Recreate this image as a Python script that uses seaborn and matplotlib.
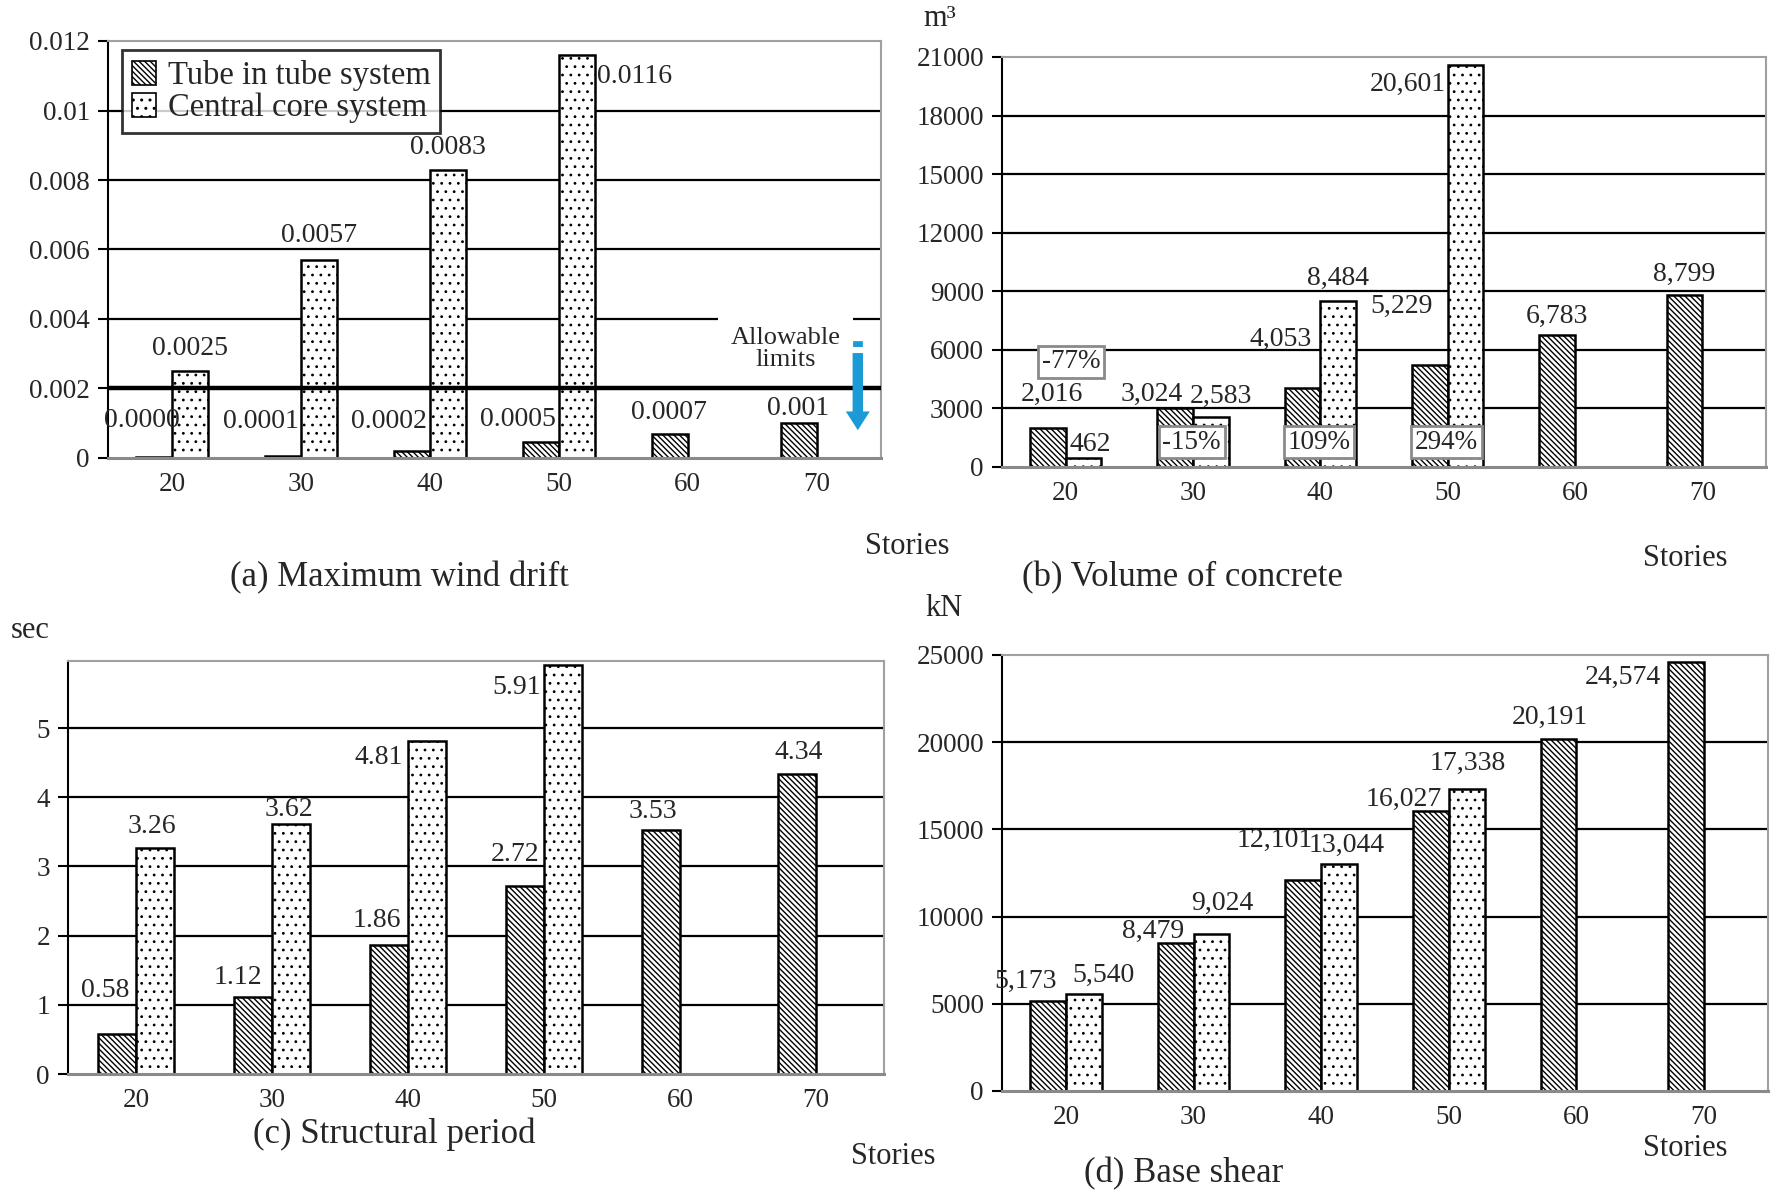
import numpy as np
import pandas as pd
import matplotlib
matplotlib.use("Agg")
import matplotlib.pyplot as plt
import seaborn as sns
from matplotlib.patches import Patch

# ---------------- data ----------------
stories = ["20", "30", "40", "50", "60", "70"]
systems = ["Tube in tube system", "Central core system"]

drift_tube = [0.00002, 0.00006, 0.0002, 0.00045, 0.0007, 0.001]
drift_core = [0.0025, 0.0057, 0.0083, 0.0116, np.nan, np.nan]
drift_tube_labels = ["0.0000", "0.0001", "0.0002", "0.0005", "0.0007", "0.001"]
drift_core_labels = ["0.0025", "0.0057", "0.0083", "0.0116"]
drift_limit = 0.002
drift_ticks = [0, 0.002, 0.004, 0.006, 0.008, 0.01, 0.012]
drift_ticklabels = ["0", "0.002", "0.004", "0.006", "0.008", "0.01", "0.012"]

concrete_tube = [2016, 3024, 4053, 5229, 6783, 8799]
concrete_core = [462, 2583, 8484, 20601, np.nan, np.nan]
concrete_change = ["-77%", "-15%", "109%", "294%"]
concrete_ticks = [0, 3000, 6000, 9000, 12000, 15000, 18000, 21000]

period_tube = [0.58, 1.12, 1.86, 2.72, 3.53, 4.34]
period_core = [3.26, 3.62, 4.81, 5.91, np.nan, np.nan]
period_ticks = [0, 1, 2, 3, 4, 5]

shear_tube = [5173, 8479, 12101, 16027, 20191, 24574]
shear_core = [5540, 9024, 13044, 17338, np.nan, np.nan]
shear_ticks = [0, 5000, 10000, 15000, 20000, 25000]

# ---------------- style ----------------
sns.set_style("white")
plt.rcParams["font.family"] = ["Liberation Serif", "DejaVu Serif"]
plt.rcParams["hatch.linewidth"] = 1.0
plt.rcParams["hatch.color"] = "black"

TUBE_HATCH = "\\" * 6
CORE_HATCH = ".."
BLUE = "#1b9ad6"
TICK_FS = 19.5
LAB_FS = 20

W, H = 1777, 1194
fig = plt.figure(figsize=(W / 100, H / 100), dpi=100)


def frac_rect(l, r, t, b):
    return [l / W, 1 - b / H, (r - l) / W, (b - t) / H]


def set_hatch(p, hatch):
    p.set_hatch(hatch)
    try:
        p.set_hatch_linewidth(1.0 if hatch == TUBE_HATCH else 0.8)
    except Exception:
        pass


def panel(rect, tube, core, ticks, ticklabels, ylim, tube_lab, core_lab, tube_off, core_off):
    ax = fig.add_axes(rect)
    df = pd.DataFrame({
        "Stories": stories * 2,
        "System": [systems[0]] * 6 + [systems[1]] * 6,
        "Value": list(tube) + list(core),
    })
    sns.barplot(data=df, x="Stories", y="Value", hue="System", order=stories,
                hue_order=systems, width=0.56, palette=["white", "white"],
                saturation=1, edgecolor="black", linewidth=1.8, errorbar=None,
                legend=False, ax=ax)
    for cont, hatch in zip(ax.containers, [TUBE_HATCH, CORE_HATCH]):
        for b in cont:
            set_hatch(b, hatch)
            b.set_zorder(2)
    ax.set_xlim(-0.5, 5.5)
    ax.set_ylim(*ylim)
    for t in ticks:
        if ylim[0] < t < ylim[1] - 1e-12:
            ax.axhline(t, color="black", lw=1.6, zorder=0.5)
    ax.set_yticks(ticks)
    ax.set_yticklabels(ticklabels)
    ax.set_xticks(range(6))
    ax.set_xticklabels(stories)
    ax.set_xticks(np.arange(-0.5, 6, 1), minor=True)
    ax.tick_params(axis="x", which="major", length=0, pad=10, labelsize=TICK_FS)
    ax.tick_params(axis="x", which="minor", length=7, width=1.5, color="black", direction="out")
    ax.tick_params(axis="y", length=7, width=1.5, color="black", direction="out",
                   pad=6, labelsize=TICK_FS, left=True)
    ax.set_xlabel("")
    ax.set_ylabel("")
    ax.spines["left"].set_color("black")
    ax.spines["left"].set_linewidth(1.5)
    for s in ["top", "right"]:
        ax.spines[s].set_color("#a0a0a0")
        ax.spines[s].set_linewidth(1.5)
    ax.spines["bottom"].set_color("#8a8a8a")
    ax.spines["bottom"].set_linewidth(2.2)

    # value labels
    for cont, labs, offs in zip(ax.containers, [tube_lab, core_lab], [tube_off, core_off]):
        bars = sorted(cont, key=lambda p: p.get_x())
        for b, lab, off in zip(bars, labs, offs):
            dx, dy = off[0], off[1]
            ha = off[2] if len(off) > 2 else "center"
            ax.annotate(lab, xy=(b.get_x() + b.get_width() / 2, b.get_height()),
                        xytext=(dx, dy), textcoords="offset pixels",
                        ha=ha, va="center", fontsize=LAB_FS, zorder=5)
    return ax


# ---------- (a) maximum wind drift ----------
axa = panel(frac_rect(108, 881, 41, 458), drift_tube, drift_core, drift_ticks,
            drift_ticklabels, (0, 0.012),
            drift_tube_labels, drift_core_labels,
            [(-13, 37), (-22, 34), (-23, 30), (-23, 23), (-1, 21), (0, 15)],
            [(0, 23), (0, 24), (0, 22), (20, -22, "left")])
axa.axhline(drift_limit, color="black", lw=3.2, zorder=3)
axa.text(4.76, 0.00314, "Allowable\nlimits", ha="center", va="center", fontsize=19,
         linespacing=1.0, zorder=4,
         bbox=dict(facecolor="white", edgecolor="none", pad=9))
axa.annotate("", xy=(5.32, 0.00072), xytext=(5.32, 0.0031),
             arrowprops=dict(arrowstyle="simple,head_length=0.9,head_width=1.15,tail_width=0.5",
                             mutation_scale=15, color=BLUE, lw=0), zorder=6)
axa.plot([5.32, 5.32], [0.00318, 0.00348], color=BLUE, lw=7, dashes=(0.6, 0.5),
         solid_capstyle="butt", zorder=6)
handles = [Patch(facecolor="white", edgecolor="black", lw=1.2),
           Patch(facecolor="white", edgecolor="black", lw=1.2)]
set_hatch(handles[0], TUBE_HATCH)
set_hatch(handles[1], CORE_HATCH)
leg = axa.legend(handles, systems, loc="upper left", bbox_to_anchor=(0.018, 0.978),
                 borderaxespad=0, frameon=True, fancybox=False, fontsize=23.5,
                 handlelength=0.75, handleheight=0.75, handletextpad=0.35,
                 labelspacing=0.06, borderpad=0.3)
leg.get_frame().set_edgecolor("black")
leg.get_frame().set_linewidth(2)
leg.set_zorder(7)

# ---------- (b) volume of concrete ----------
axb = panel(frac_rect(1002, 1766, 57, 467), concrete_tube, concrete_core, concrete_ticks,
            [str(t) for t in concrete_ticks], (0, 21000),
            [f"{v:,.0f}" for v in concrete_tube],
            [f"{v:,.0f}" for v in concrete_core if not np.isnan(v)],
            [(4, 33), (-23, 14), (-22, 48), (-28, 59), (0, 18), (0, 21)],
            [(7, 13), (10, 20), (0, 23), (-20, -20, "right")])
change_pos = [(0.04, 5380), (0.99, 1280), (1.99, 1280), (2.99, 1280)]
for (x, y), s in zip(change_pos, concrete_change):
    axb.text(x, y, s, ha="center", va="center", fontsize=19.5, zorder=6,
             bbox=dict(boxstyle="square,pad=0.14", facecolor="white",
                       edgecolor="#8a8a8a", lw=2))

# ---------- (c) structural period ----------
axc = panel(frac_rect(68, 884, 661, 1074), period_tube, period_core, period_ticks,
            [str(t) for t in period_ticks], (0, 5.97),
            [f"{v:.2f}" for v in period_tube],
            [f"{v:.2f}" for v in period_core if not np.isnan(v)],
            [(-12, 43), (-15, 19), (-12, 25), (-10, 31), (-8, 18), (2, 21)],
            [(-3, 22), (-2, 14), (-24, -16, "right"), (-22, -22, "right")])

# ---------- (d) base shear ----------
axd = panel(frac_rect(1002, 1768, 655, 1091), shear_tube, shear_core, shear_ticks,
            [str(t) for t in shear_ticks], (0, 25000),
            [f"{v:,.0f}" for v in shear_tube],
            [f"{v:,.0f}" for v in shear_core if not np.isnan(v)],
            [(-22, 19), (-23, 12), (-29, 40), (-27, 12), (-9, 21), (-25, -15, "right")],
            [(20, 19), (11, 30), (8, 18), (1, 25)])

# ---------- figure texts ----------
def ftext(x, y, s, fs, **kw):
    fig.text(x / W, 1 - y / H, s, fontsize=fs, ha="center", va="center", **kw)

ftext(399, 578, "(a) Maximum wind drift", 25)
ftext(1182, 578, "(b) Volume of concrete", 25)
ftext(394, 1134, "(c) Structural period", 25)
ftext(1184, 1174, "(d) Base shear", 25)
ftext(907, 546, "Stories", 22)
ftext(1685, 559, "Stories", 22)
ftext(893, 1156, "Stories", 22)
ftext(1685, 1149, "Stories", 22)
ftext(940, 19, "m\u00b3", 22)
ftext(30, 630, "sec", 22)
ftext(944, 609, "kN", 22)

fig.savefig("out.png", dpi=100, facecolor="white")
